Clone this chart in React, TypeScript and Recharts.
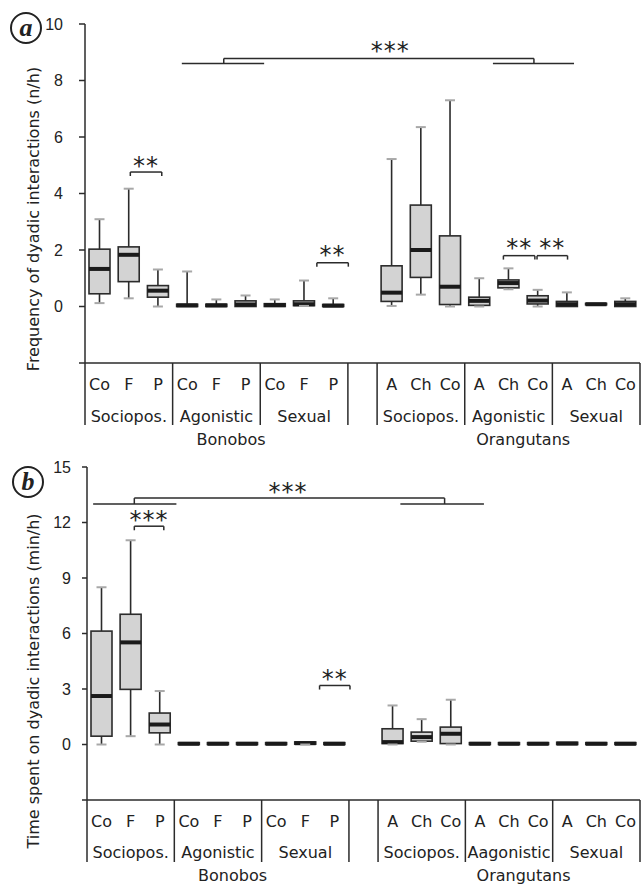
import React from 'react';
import { Bar, ComposedChart, ReferenceDot, ReferenceLine, XAxis, YAxis } from 'recharts';

// 19 slots: 9 bonobo categories, an empty spacer, 9 orangutan categories
const slotLabels = ['Co', 'F', 'P', 'Co', 'F', 'P', 'Co', 'F', 'P', '', 'A', 'Ch', 'Co', 'A', 'Ch', 'Co', 'A', 'Ch', 'Co'];
const groupStarts = [0, 3, 6, 9, 10, 13, 16];
const groupMids = [1, 4, 7, 11, 14, 17];
const groupNamesA = ['Sociopos.', 'Agonistic', 'Sexual', 'Sociopos.', 'Agonistic', 'Sexual'];
const groupNamesB = ['Sociopos.', 'Agonistic', 'Sexual', 'Sociopos.', 'Aagonistic', 'Sexual'];
const speciesNames = ['Bonobos', 'Orangutans'];
const speciesMids = [4, 14];

// (a) frequency of dyadic interactions (n/h)
const freqLow = [0.12, 0.29, 0, 0, 0, 0, 0, 0.02, 0, null, 0.02, 0.42, 0, 0, 0.61, 0, 0, 0.06, 0];
const freqQ1 = [0.45, 0.88, 0.33, 0, 0, 0, 0, 0.03, 0, null, 0.18, 1.03, 0.07, 0.04, 0.66, 0.09, 0, 0.06, 0];
const freqMedian = [1.33, 1.83, 0.56, 0.04, 0.04, 0.07, 0.05, 0.08, 0.03, null, 0.49, 2.0, 0.7, 0.2, 0.83, 0.21, 0.08, 0.08, 0.08];
const freqQ3 = [2.03, 2.11, 0.74, 0.08, 0.08, 0.2, 0.1, 0.2, 0.07, null, 1.44, 3.59, 2.5, 0.33, 0.94, 0.38, 0.18, 0.11, 0.18];
const freqHigh = [3.09, 4.17, 1.31, 1.24, 0.25, 0.39, 0.25, 0.92, 0.29, null, 5.22, 6.35, 7.3, 1.0, 1.35, 0.59, 0.5, 0.11, 0.29];

// (b) time spent on dyadic interactions (min/h)
const timeLow = [0, 0.45, 0, 0, 0, 0, 0, 0, 0, null, 0, 0.15, 0, 0, 0, 0, 0, 0, 0];
const timeQ1 = [0.45, 2.98, 0.63, 0, 0, 0, 0, 0.02, 0, null, 0.05, 0.18, 0.05, 0, 0, 0, 0, 0, 0];
const timeMedian = [2.62, 5.52, 1.08, 0.04, 0.04, 0.04, 0.04, 0.07, 0.04, null, 0.13, 0.4, 0.58, 0.04, 0.04, 0.04, 0.05, 0.04, 0.04];
const timeQ3 = [6.13, 7.04, 1.7, 0.1, 0.1, 0.1, 0.1, 0.14, 0.1, null, 0.85, 0.67, 0.94, 0.1, 0.1, 0.1, 0.12, 0.1, 0.1];
const timeHigh = [8.5, 11.04, 2.89, 0.1, 0.1, 0.1, 0.1, 0.14, 0.1, null, 2.11, 1.37, 2.42, 0.1, 0.1, 0.1, 0.12, 0.1, 0.1];

// significance marks, x in slot units (0..19), y in data units
const freqPairs = [
  { from: 1.47, to: 2.49, y: 4.76, text: '**', ty: 5.12 },
  { from: 7.52, to: 8.54, y: 1.55, text: '**', ty: 1.95 },
  { from: 13.57, to: 14.59, y: 1.8, text: '**', ty: 2.2 },
  { from: 14.66, to: 15.65, y: 1.8, text: '**', ty: 2.2 },
];
const freqGroup = { left: [3.14, 5.81], right: [13.23, 15.86], y: 8.6, join: [4.5, 14.56], top: 8.78, tx: 9.9, ty: 9.17 };

const timePairs = [
  { from: 1.54, to: 2.5, y: 11.8, text: '***', ty: 12.35 },
  { from: 7.57, to: 8.56, y: 3.19, text: '**', ty: 3.75 },
];
const timeGroup = { left: [0.2, 2.91], right: [10.2, 12.92], y: 13.0, join: [1.54, 11.64], top: 13.32, tx: 6.54, ty: 13.85 };

const INK = '#2b2b2b';

function buildRows(low: any[], q1: any[], med: any[], q3: any[], high: any[]) {
  return slotLabels.map((label, i) => ({
    key: `s${i}`,
    label,
    low: low[i],
    q1: q1[i],
    median: med[i],
    q3: q3[i],
    high: high[i],
  }));
}

const BoxShape = (props: any) => {
  const { x, y, width, height, payload } = props;
  if (payload == null || payload.high == null) return null;
  const top = Math.min(y, y + height);
  const bottom = Math.max(y, y + height);
  const span = payload.high - payload.low || 1;
  const py = (v: number) => bottom - ((v - payload.low) / span) * (bottom - top);
  const cx = x + width / 2;
  const capHalf = 5;
  return (
    <g>
      {payload.high > payload.q3 && (
        <line x1={cx} x2={cx} y1={py(payload.high)} y2={py(payload.q3)} stroke={INK} strokeWidth={1.6} />
      )}
      {payload.q1 > payload.low && (
        <line x1={cx} x2={cx} y1={py(payload.q1)} y2={py(payload.low)} stroke={INK} strokeWidth={1.6} />
      )}
      <rect
        x={x}
        y={py(payload.q3)}
        width={width}
        height={Math.max(0.5, py(payload.q1) - py(payload.q3))}
        fill="#d3d3d3"
        stroke={INK}
        strokeWidth={1.6}
      />
      <line x1={x} x2={x + width} y1={py(payload.median)} y2={py(payload.median)} stroke="#1a1a1a" strokeWidth={4} />
      {payload.high > payload.q3 && (
        <line x1={cx - capHalf} x2={cx + capHalf} y1={py(payload.high)} y2={py(payload.high)} stroke="#a8a8a8" strokeWidth={2} />
      )}
      {payload.q1 > payload.low && (
        <line x1={cx - capHalf} x2={cx + capHalf} y1={py(payload.low)} y2={py(payload.low)} stroke="#a8a8a8" strokeWidth={2} />
      )}
    </g>
  );
};

const TableTick = (props: any) => {
  const { x, y, payload, groups, rows } = props;
  const i = payload?.index ?? props.index;
  const half = payload?.offset || 14.6;
  const font = { fontFamily: '"DejaVu Sans", Verdana, sans-serif', fontSize: 16, fill: '#222' };
  const g = groupMids.indexOf(i);
  const s = speciesMids.indexOf(i);
  return (
    <g>
      <text x={x} y={y + rows[0]} textAnchor="middle" {...font}>
        {slotLabels[i]}
      </text>
      {groupStarts.includes(i) && <line x1={x - half} x2={x - half} y1={y} y2={y + rows[3]} stroke={INK} strokeWidth={1.5} />}
      {i === slotLabels.length - 1 && <line x1={x + half} x2={x + half} y1={y} y2={y + rows[3]} stroke={INK} strokeWidth={1.5} />}
      {g >= 0 && (
        <text x={x} y={y + rows[1]} textAnchor="middle" {...font}>
          {groups[g]}
        </text>
      )}
      {s >= 0 && (
        <text x={x + half} y={y + rows[2]} textAnchor="middle" {...font}>
          {speciesNames[s]}
        </text>
      )}
    </g>
  );
};

const Stars = ({ cx, cy, text }: any) => (
  <text
    x={cx}
    y={cy + 12}
    textAnchor="middle"
    fontFamily='"DejaVu Sans", sans-serif'
    fontSize={24}
    letterSpacing={1}
    fill="#222"
  >
    {text}
  </text>
);

function Panel(props: any) {
  const { data, domain, ticks, label, groups, pairs, group, height, top, axisWidth, rows, drop, labelY, labelSize, tickSize, tickMargin } =
    props;
  const tickFont = { fontFamily: '"Liberation Sans", Arial, sans-serif', fontSize: 16, fill: '#222' };
  const lineStyle = { stroke: INK, strokeWidth: 1.5 };
  return (
    <ComposedChart width={641} height={height} data={data} margin={{ top, right: 1, bottom: 0, left: 0 }} barCategoryGap={0}>
      <XAxis
        dataKey="key"
        height={height - rows[4]}
        interval={0}
        tickLine={false}
        tickSize={0}
        tickMargin={0}
        axisLine={lineStyle}
        tick={(p: any) => <TableTick {...p} groups={groups} rows={rows} />}
      />
      <XAxis xAxisId="top" orientation="top" dataKey="key" height={0} tick={false} tickLine={false} axisLine={lineStyle} />
      <XAxis xAxisId="n" type="number" domain={[0, 19]} hide allowDataOverflow />
      <YAxis
        domain={domain}
        ticks={ticks}
        allowDataOverflow
        width={axisWidth}
        tickSize={tickSize}
        tickMargin={tickMargin}
        tick={tickFont}
        tickFormatter={(v: number) => (v < 0 ? '' : String(v))}
        tickLine={lineStyle}
        axisLine={lineStyle}
        label={{
          content: (lp: any) => {
            const vb = lp.viewBox;
            const cy = vb.y + vb.height / 2 + labelY;
            return (
              <text
                x={33}
                y={cy}
                transform={`rotate(-90, 33, ${cy})`}
                textAnchor="middle"
                dominantBaseline="central"
                fontFamily='"DejaVu Sans", Verdana, sans-serif'
                fontSize={labelSize}
                fill="#222"
              >
                {label}
              </text>
            );
          },
        }}
      />
      <YAxis yAxisId="right" orientation="right" width={0} domain={domain} tick={false} tickLine={false} axisLine={lineStyle} />
      <Bar
        dataKey={(d: any) => (d.high == null ? undefined : [d.low, d.high])}
        barSize={21}
        shape={<BoxShape />}
        isAnimationActive={false}
      />
      {pairs.map((p: any, k: number) => (
        <ReferenceLine
          key={`p${k}`}
          xAxisId="n"
          segment={[{ x: p.from, y: p.y }, { x: p.to, y: p.y }]}
          stroke={INK}
          strokeWidth={1.5}
        />
      ))}
      {pairs.flatMap((p: any, k: number) =>
        [p.from, p.to].map((xv: number, j: number) => (
          <ReferenceLine
            key={`pe${k}-${j}`}
            xAxisId="n"
            segment={[{ x: xv, y: p.y }, { x: xv, y: p.y - drop }]}
            stroke={INK}
            strokeWidth={1.5}
          />
        ))
      )}
      {pairs.map((p: any, k: number) => (
        <ReferenceDot
          key={`pt${k}`}
          xAxisId="n"
          x={(p.from + p.to) / 2}
          y={p.ty}
          r={0}
          shape={(s: any) => <Stars cx={s.cx} cy={s.cy} text={p.text} />}
        />
      ))}
      <ReferenceLine xAxisId="n" segment={[{ x: group.left[0], y: group.y }, { x: group.left[1], y: group.y }]} stroke={INK} strokeWidth={1.5} />
      <ReferenceLine xAxisId="n" segment={[{ x: group.right[0], y: group.y }, { x: group.right[1], y: group.y }]} stroke={INK} strokeWidth={1.5} />
      <ReferenceLine xAxisId="n" segment={[{ x: group.join[0], y: group.top }, { x: group.join[1], y: group.top }]} stroke={INK} strokeWidth={1.5} />
      <ReferenceLine xAxisId="n" segment={[{ x: group.join[0], y: group.y }, { x: group.join[0], y: group.top }]} stroke={INK} strokeWidth={1.5} />
      <ReferenceLine xAxisId="n" segment={[{ x: group.join[1], y: group.y }, { x: group.join[1], y: group.top }]} stroke={INK} strokeWidth={1.5} />
      <ReferenceDot xAxisId="n" x={group.tx} y={group.ty} r={0} shape={(s: any) => <Stars cx={s.cx} cy={s.cy} text="***" />} />
    </ComposedChart>
  );
}

const Badge = ({ cx, cy, letter }: any) => (
  <g>
    <circle cx={cx} cy={cy} r={15} fill="white" stroke="#222" strokeWidth={2} />
    <text
      x={cx}
      y={cy + 8}
      textAnchor="middle"
      fontFamily='"Liberation Serif", "Times New Roman", serif'
      fontStyle="italic"
      fontWeight="bold"
      fontSize={26}
      fill="#222"
    >
      {letter}
    </text>
  </g>
);

export default function App() {
  const freqRows = buildRows(freqLow, freqQ1, freqMedian, freqQ3, freqHigh);
  const timeRows = buildRows(timeLow, timeQ1, timeMedian, timeQ3, timeHigh);
  return (
    <div style={{ position: 'absolute', left: 0, top: 0, width: 641, height: 884, overflow: 'hidden', background: '#fff' }}>
      <div style={{ position: 'absolute', left: 0, top: 0 }}>
        <Panel
          data={freqRows}
          domain={[-2, 10]}
          ticks={[-2, 0, 2, 4, 6, 8, 10]}
          label="Frequency of dyadic interactions (n/h)"
          groups={groupNamesA}
          pairs={freqPairs}
          group={freqGroup}
          height={455}
          top={24}
          axisWidth={85}
          tickSize={6}
          tickMargin={16}
          rows={[27, 59, 82, 62, 363]}
          drop={0.14}
          labelY={25.5}
          labelSize={16}
        />
      </div>
      <div style={{ position: 'absolute', left: 0, top: 440 }}>
        <Panel
          data={timeRows}
          domain={[-3, 15]}
          ticks={[-3, 0, 3, 6, 9, 12, 15]}
          label="Time spent on dyadic interactions (min/h)"
          groups={groupNamesB}
          pairs={timePairs}
          group={timeGroup}
          height={444}
          top={27}
          axisWidth={87}
          tickSize={5}
          tickMargin={11}
          rows={[27, 58, 81, 62, 360]}
          drop={0.22}
          labelY={47.5}
          labelSize={16}
        />
      </div>
      <svg width={641} height={884} style={{ position: 'absolute', left: 0, top: 0, pointerEvents: 'none' }}>
        <Badge cx={26} cy={28} letter="a" />
        <Badge cx={28} cy={482} letter="b" />
      </svg>
    </div>
  );
}
